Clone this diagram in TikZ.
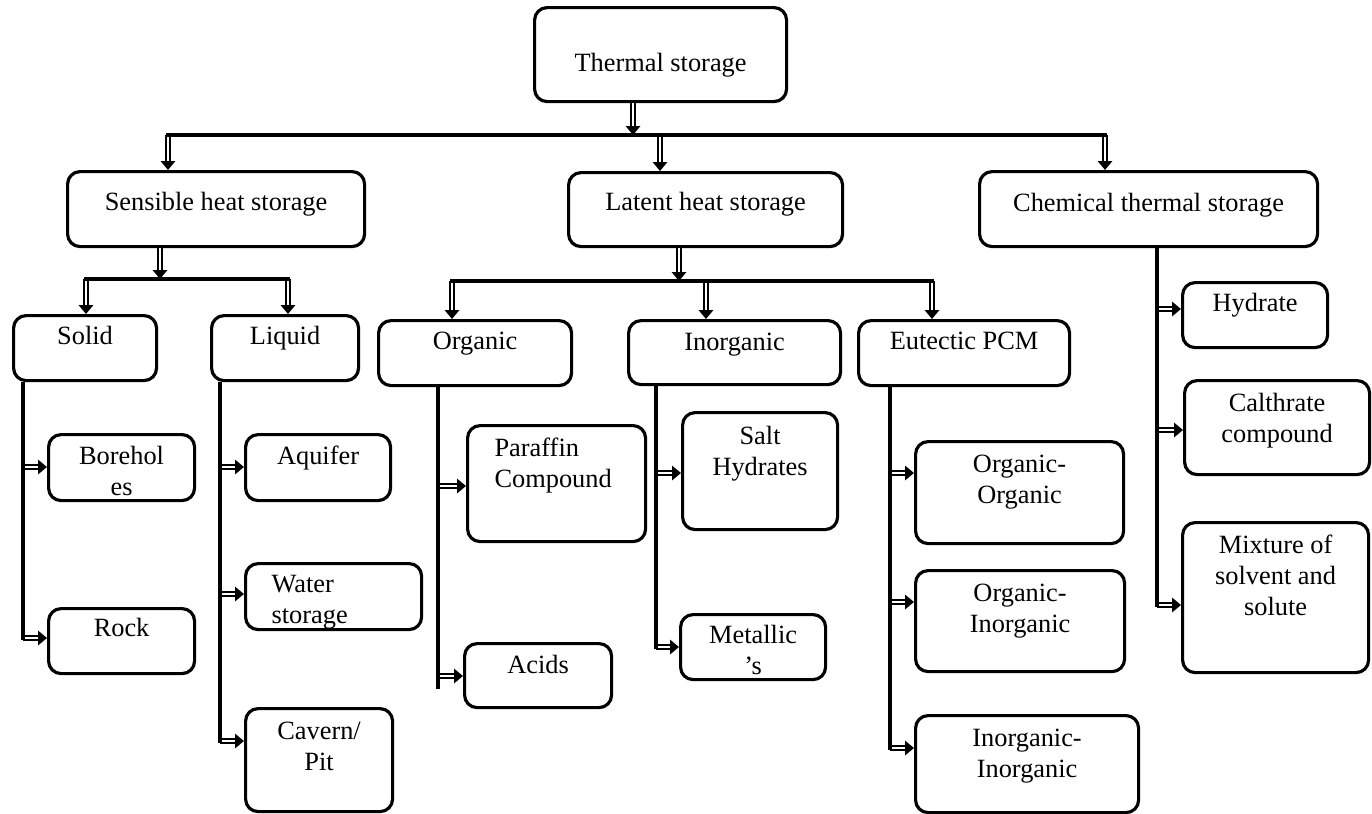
\documentclass[tikz,border=0pt]{standalone}
\usepackage{fontspec}
\setmainfont{Liberation Serif}
\usetikzlibrary{arrows.meta}

\newdimen\pxu \pxu=0.2mm
% box text: width, height, first baseline, text
\newcommand{\cbox}[4]{\parbox[t][#2\pxu][t]{#1\pxu}{\centering\rule{0pt}{#3\pxu}#4}}
% same, left aligned with indent
\newcommand{\lbox}[5]{\parbox[t][#2\pxu][t]{#1\pxu}{\raggedright\leftskip=#4\pxu\rule{0pt}{#3\pxu}#5}}

\begin{document}
\begin{tikzpicture}[x=0.2mm, y=-0.2mm,
store box/.style={draw, rounded corners=2.5mm, line width=1.8pt, inner sep=0pt,
  anchor=north west, font=\fontsize{15}{17.6}\selectfont},
branch/.style={line width=1.8pt},
feed/.style={double, line width=1.1pt, double distance=1.3pt,
  -{Triangle[length=5pt, width=8pt]}}]

\useasboundingbox (0,0) rectangle (1372,813);

\node[store box] (thermal) at (533,6) {\cbox{252}{94}{64}{Thermal storage}};
\node[store box] (sensible) at (66,170) {\cbox{297}{75}{39}{Sensible heat storage}};
\node[store box] (latent) at (567,171) {\cbox{274}{74}{38}{Latent heat storage}};
\node[store box] (chemical) at (978,170) {\cbox{338}{75}{40}{Chemical thermal storage}};

\node[store box] (solid) at (12,314) {\cbox{143}{65}{29}{Solid}};
\node[store box] (liquid) at (210,314) {\cbox{147}{65}{29}{Liquid}};
\node[store box] (organic) at (377,319) {\cbox{193}{65}{29}{Organic}};
\node[store box] (inorganic) at (627,319) {\cbox{212}{64}{30}{Inorganic}};
\node[store box] (eutectic) at (857,319) {\cbox{211}{65}{29}{Eutectic PCM}};

\node[store box] (bore) at (47,433) {\cbox{146}{66}{30}{Borehol\\es}};
\node[store box] (rock) at (47,607) {\cbox{146}{65}{28}{Rock}};
\node[store box] (aquifer) at (244,433) {\cbox{145}{66}{30}{Aquifer}};
\node[store box] (water) at (244,562) {\lbox{176}{66}{29}{26}{Water\\storage}};
\node[store box] (cavern) at (244,707) {\cbox{147}{103}{31}{Cavern/\\Pit}};
\node[store box] (paraffin) at (466,424) {\lbox{178}{116}{31}{27}{Paraffin\\Compound}};
\node[store box] (acids) at (463,642) {\cbox{147}{64}{30}{Acids}};
\node[store box] (salt) at (681,411) {\cbox{155}{117}{32}{Salt\\Hydrates}};
\node[store box] (metallic) at (679,613) {\cbox{145}{65}{29}{Metallic\\'s}};
\node[store box] (orgorg) at (914,440) {\cbox{208}{102}{31}{Organic-\\Organic}};
\node[store box] (orginorg) at (914,569) {\cbox{209}{101}{31}{Organic-\\Inorganic}};
\node[store box] (inorginorg) at (914,714) {\cbox{223}{97}{31}{Inorganic-\\Inorganic}};
\node[store box] (hydrate) at (1181,281) {\cbox{145}{65}{29}{Hydrate}};
\node[store box] (calthrate) at (1183,379) {\cbox{185}{94}{31}{Calthrate\\compound}};
\node[store box] (mixture) at (1181,521) {\cbox{186}{150}{31}{Mixture of\\solvent and\\solute}};

% first level
\draw[feed] (thermal.south -| 633,0) -- (633,135);
\draw[feed] (168,135) -- (sensible.north -| 168,0);
\draw[feed] (660,135) -- (latent.north -| 660,0);
\draw[feed] (1105,135) -- (chemical.north -| 1105,0);
\draw[branch] (166,135) -- (1107,135);

% sensible
\draw[feed] (sensible.south -| 160,0) -- (160,279);
\draw[feed] (86,279) -- (solid.north -| 86,0);
\draw[feed] (288,279) -- (liquid.north -| 288,0);
\draw[branch] (84,279) -- (290,279);

% latent
\draw[feed] (latent.south -| 679,0) -- (679,281);
\draw[feed] (452,281) -- (organic.north -| 452,0);
\draw[feed] (706,281) -- (inorganic.north -| 706,0);
\draw[feed] (932,281) -- (eutectic.north -| 932,0);
\draw[branch] (450,281) -- (934,281);

% side arrows
\draw[feed] (23,467) -- (bore.west |- 0,467);
\draw[feed] (23,638) -- (rock.west |- 0,638);
\draw[feed] (220,467) -- (aquifer.west |- 0,467);
\draw[feed] (220,594) -- (water.west |- 0,594);
\draw[feed] (220,741) -- (cavern.west |- 0,741);
\draw[feed] (438,486) -- (paraffin.west |- 0,486);
\draw[feed] (438,676) -- (acids.west |- 0,676);
\draw[feed] (656,473) -- (salt.west |- 0,473);
\draw[feed] (656,647) -- (metallic.west |- 0,647);
\draw[feed] (890,473) -- (orgorg.west |- 0,473);
\draw[feed] (890,602) -- (orginorg.west |- 0,602);
\draw[feed] (890,748) -- (inorginorg.west |- 0,748);
\draw[feed] (1157,309) -- (hydrate.west |- 0,309);
\draw[feed] (1157,430) -- (calthrate.west |- 0,430);
\draw[feed] (1157,605) -- (mixture.west |- 0,605);

% trunks
\draw[branch] (solid.south -| 23,0) -- (23,640);
\draw[branch] (liquid.south -| 220,0) -- (220,743);
\draw[branch] (organic.south -| 438,0) -- (438,689);
\draw[branch] (inorganic.south -| 656,0) -- (656,649);
\draw[branch] (eutectic.south -| 890,0) -- (890,750);
\draw[branch] (chemical.south -| 1157,0) -- (1157,607);
\end{tikzpicture}
\end{document}
